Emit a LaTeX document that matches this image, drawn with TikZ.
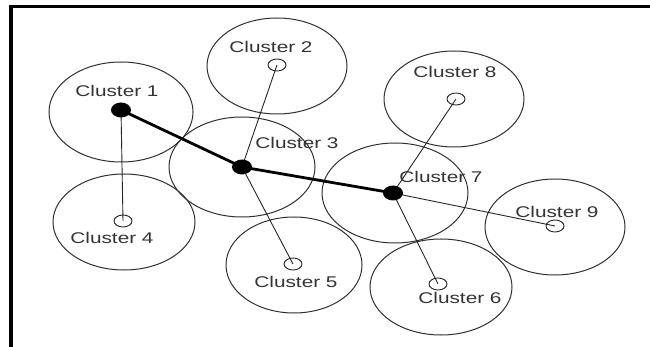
\documentclass[tikz,border=0pt]{standalone}
\usepackage{fontspec}
\setmainfont{Liberation Sans}
\usetikzlibrary{shapes.geometric}
\definecolor{ringc}{HTML}{303030}
\definecolor{txtc}{HTML}{333333}
\tikzset{
  ring/.style={draw=ringc, line width=1pt},
  thinlink/.style={draw=black!85, line width=0.9pt},
  thicklink/.style={draw=black, line width=2.8pt},
  head/.style={ellipse, fill=black, minimum width=20pt, minimum height=15pt, inner sep=0pt},
  member/.style={ellipse, draw=black!85, line width=0.9pt, minimum width=18pt, minimum height=12pt, inner sep=0pt},
  lbl/.style={text=txtc, font=\fontsize{15.5}{15.5}\selectfont, xscale=1.34, inner sep=0pt}
}
\begin{document}
\begin{tikzpicture}[x=1pt,y=-1pt]
\useasboundingbox (0,0) rectangle (650,347);
% frame
\draw[black, line width=4pt] (11,5.5) -- (11,347);
\draw[black, line width=2.6pt] (9,6.5) -- (650,6.5);
% cluster areas
\draw[ring] (121,112) ellipse (72 and 50);
\draw[ring] (277,66) ellipse (70 and 48);
\draw[ring] (242,167) ellipse (73 and 50);
\draw[ring] (124,222) ellipse (71 and 48);
\draw[ring] (294,265) ellipse (68 and 48);
\draw[ring] (395,193) ellipse (73 and 50);
\draw[ring] (454,99) ellipse (70 and 48);
\draw[ring] (555,227) ellipse (70 and 48);
\draw[ring] (441,287) ellipse (71 and 48);
% centres
\coordinate (c1) at (121,110);
\coordinate (c3) at (242,167);
\coordinate (c7) at (393,193);
\coordinate (c2) at (277,65);
\coordinate (c4) at (123,221);
\coordinate (c5) at (293,264);
\coordinate (c6) at (438,284);
\coordinate (c8) at (456,99);
\coordinate (c9) at (555,226);
% links
\draw[thinlink] (c1) -- (c4);
\draw[thinlink] (c3) -- (c2);
\draw[thinlink] (c3) -- (c5);
\draw[thinlink] (c7) -- (c8);
\draw[thinlink] (c7) -- (c9);
\draw[thinlink] (c7) -- (c6);
\draw[thicklink] (c1) -- (c3) -- (c7);
% nodes
\node[head] (h1) at (c1) {};
\node[head] (h3) at (c3) {};
\node[head] (h7) at (c7) {};
\node[member] (m2) at (c2) {};
\node[member] (m4) at (c4) {};
\node[member] (m5) at (c5) {};
\node[member] (m6) at (c6) {};
\node[member] (m8) at (c8) {};
\node[member] (m9) at (c9) {};
% labels
\node[lbl] (l1) at (117,91) {Cluster 1};
\node[lbl] (l2) at (271,47) {Cluster 2};
\node[lbl] (l3) at (297,143) {Cluster 3};
\node[lbl] (l4) at (112,238) {Cluster 4};
\node[lbl] (l5) at (296,282) {Cluster 5};
\node[lbl] (l6) at (460,298) {Cluster 6};
\node[lbl] (l7) at (441,177) {Cluster 7};
\node[lbl] (l8) at (455,72) {Cluster 8};
\node[lbl] (l9) at (557,212) {Cluster 9};
\end{tikzpicture}
\end{document}
